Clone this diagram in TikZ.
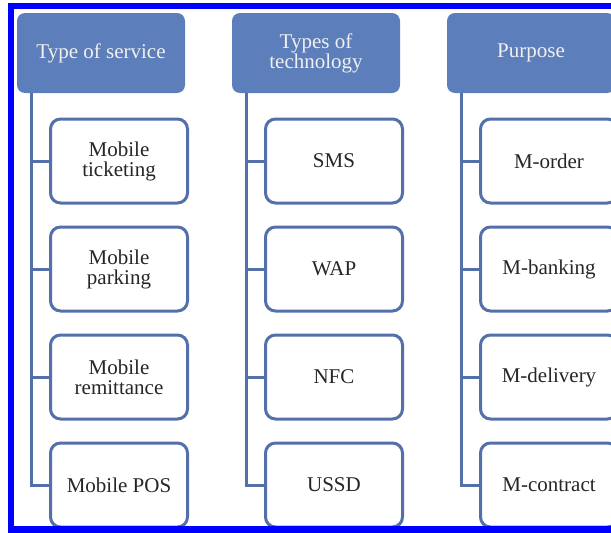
\documentclass[tikz,border=0pt]{standalone}
\usepackage{fontspec}
\setmainfont{Liberation Serif}
\usetikzlibrary{trees}

\definecolor{headblue}{RGB}{92,126,186}
\definecolor{lineblue}{RGB}{84,112,170}
\definecolor{frameblue}{RGB}{0,0,255}

\begin{document}
\begin{tikzpicture}[x=1pt, y=-1pt]
        \tikzstyle{every node}=[align=center, font=\fontsize{21}{20}\selectfont]
        \tikzstyle{header}=[fill=headblue, rounded corners=8pt, text=white!94!black, minimum width=168pt, minimum height=80pt, font=\fontsize{21}{19}\selectfont]
        \tikzstyle{item}=[draw=lineblue, fill=white, rounded corners=10pt, line width=3pt, text=black!85, minimum width=137pt, minimum height=84pt]
        \tikzstyle{level 1}=[grow via three points={one child at (18,108) and two children at (18,108) and (18,216)},
            edge from parent path={([xshift=15pt]\tikzparentnode.south west) |- (\tikzchildnode.west)}]
        \tikzstyle{edge from parent}=[draw=lineblue, line width=3pt]

        \useasboundingbox (0,0) rectangle (611,533);
        \clip (0,0) rectangle (611,533);

% Three lists side by side, each header with its items hanging below.

        \node[header] (service) at (101,53) {Type of service}
            child {node[item] (ticketing) {Mobile\\ticketing}}
            child {node[item] (parking) {Mobile\\parking}}
            child {node[item] (remittance) {Mobile\\remittance}}
            child {node[item] (pos) {Mobile POS}};

        \node[header] (technology) at (316,53) {Types of\\technology}
            child {node[item] (sms) {SMS}}
            child {node[item] (wap) {WAP}}
            child {node[item] (nfc) {NFC}}
            child {node[item] (ussd) {USSD}};

        \node[header] (purpose) at (531,53) {Purpose}
            child {node[item] (order) {M-order}}
            child {node[item] (banking) {M-banking}}
            child {node[item] (delivery) {M-delivery}}
            child {node[item] (contract) {M-contract}};

        % frame round the figure
        \fill[frameblue] (8,3) rectangle (611,8.5);
        \fill[frameblue] (8,3) rectangle (13.5,533);
        \fill[frameblue] (8,526) rectangle (611,533);

    \end{tikzpicture}
\end{document}
